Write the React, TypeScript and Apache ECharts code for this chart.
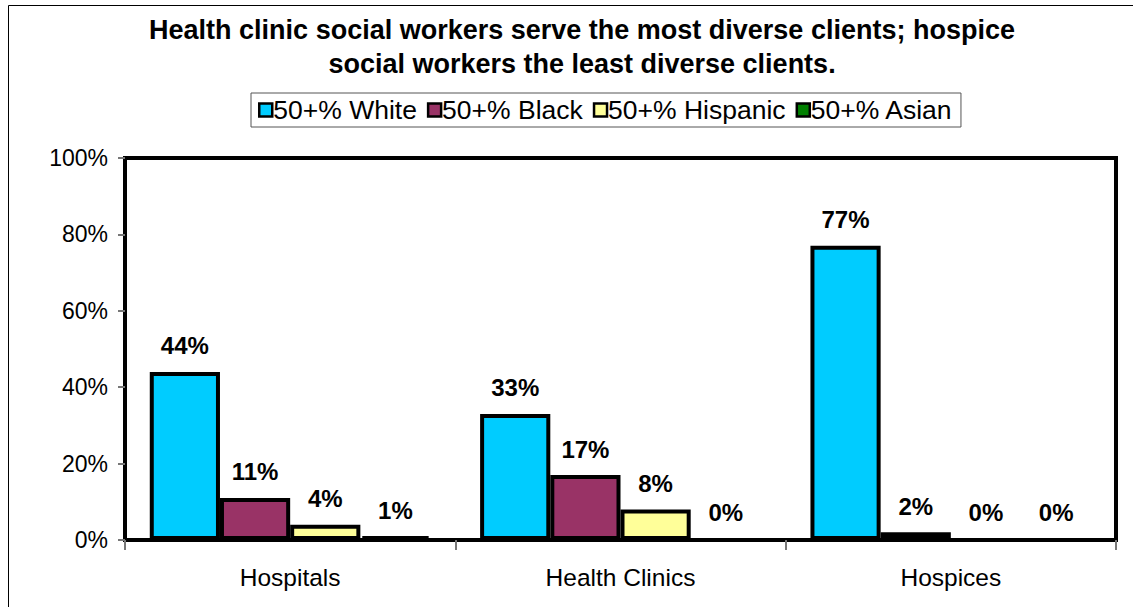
import React, { useEffect, useRef } from "react";
import * as echarts from "echarts";

const categories = ["Hospitals", "Health Clinics", "Hospices"];
const seriesNames = ["50+% White", "50+% Black", "50+% Hispanic", "50+% Asian"];
const white = [44, 33, 77];
const black = [11, 17, 2];
const hispanic = [4, 8, 0];
const asian = [1, 0, 0];
const colors = ["#00CCFF", "#993366", "#FFFF99", "#008000"];
const yTicks = [0, 20, 40, 60, 80, 100];

const FONT = "Liberation Sans, Arial, sans-serif";

export default function App() {
  const ref = useRef<HTMLDivElement>(null);
  useEffect(() => {
    document.body.style.margin = "0";
    const chart = echarts.init(ref.current!, null, { renderer: "svg" });
    const values = [white, black, hispanic, asian];
    chart.setOption({
      animation: false,
      backgroundColor: "#ffffff",
      textStyle: { fontFamily: FONT },
      title: {
        text: "Health clinic social workers serve the most diverse clients; hospice\nsocial workers the least diverse clients.",
        left: 582,
        textAlign: "center",
        top: 13,
        padding: 0,
        textStyle: { fontSize: 27, fontWeight: "bold", color: "#000", lineHeight: 34, fontFamily: FONT },
      },
      legend: {
        data: seriesNames,
        top: 93,
        left: 251,
        borderColor: "#555",
        borderWidth: 1,
        padding: [3, 8, 3, 7],
        itemGap: 10,
        itemWidth: 13,
        itemHeight: 13,
        icon: "rect",
        textStyle: { fontSize: 26.5, color: "#000", fontFamily: FONT, lineHeight: 28, padding: [0, 0, 0, -4] },
        itemStyle: { borderColor: "#000", borderWidth: 2.5 },
      },
      graphic: [
        {
          type: "rect",
          shape: { x: 8.5, y: 5.5, width: 1200, height: 700 },
          style: { fill: "none", stroke: "#000", lineWidth: 1 },
          silent: true,
        },
      ],
      grid: {
        left: 125,
        right: 17,
        top: 158,
        bottom: 67,
        show: true,
        borderColor: "#000",
        borderWidth: 4,
        backgroundColor: "transparent",
      },
      xAxis: {
        type: "category",
        data: categories,
        axisLine: { show: true, lineStyle: { color: "#000", width: 3 } },
        axisTick: { show: true, length: 10, lineStyle: { color: "#777", width: 2 } },
        axisLabel: { fontSize: 24.5, color: "#000", margin: 25, fontFamily: FONT },
      },
      yAxis: {
        type: "value",
        min: 0,
        max: 100,
        interval: 20,
        axisLine: { show: true, lineStyle: { color: "#000", width: 3 } },
        axisTick: { show: true, length: 7, lineStyle: { color: "#777", width: 2 } },
        splitLine: { show: false },
        axisLabel: {
          fontSize: 23,
          color: "#000",
          margin: 17,
          fontFamily: FONT,
          formatter: (v: number) => (yTicks.includes(v) ? v + "%" : ""),
        },
      },
      series: seriesNames.map((name, i) => ({
        name,
        type: "bar",
        data: values[i],
        barGap: "0%",
        barCategoryGap: "15%",
        itemStyle: { color: colors[i], borderColor: "#000", borderWidth: 4 },
        label: {
          show: true,
          position: "top",
          distance: 14,
          formatter: "{c}%",
          fontSize: 24,
          fontWeight: "bold",
          color: "#000",
          fontFamily: FONT,
        },
      })),
    });
    return () => chart.dispose();
  }, []);
  return <div ref={ref} style={{ width: 1133, height: 607 }} />;
}
